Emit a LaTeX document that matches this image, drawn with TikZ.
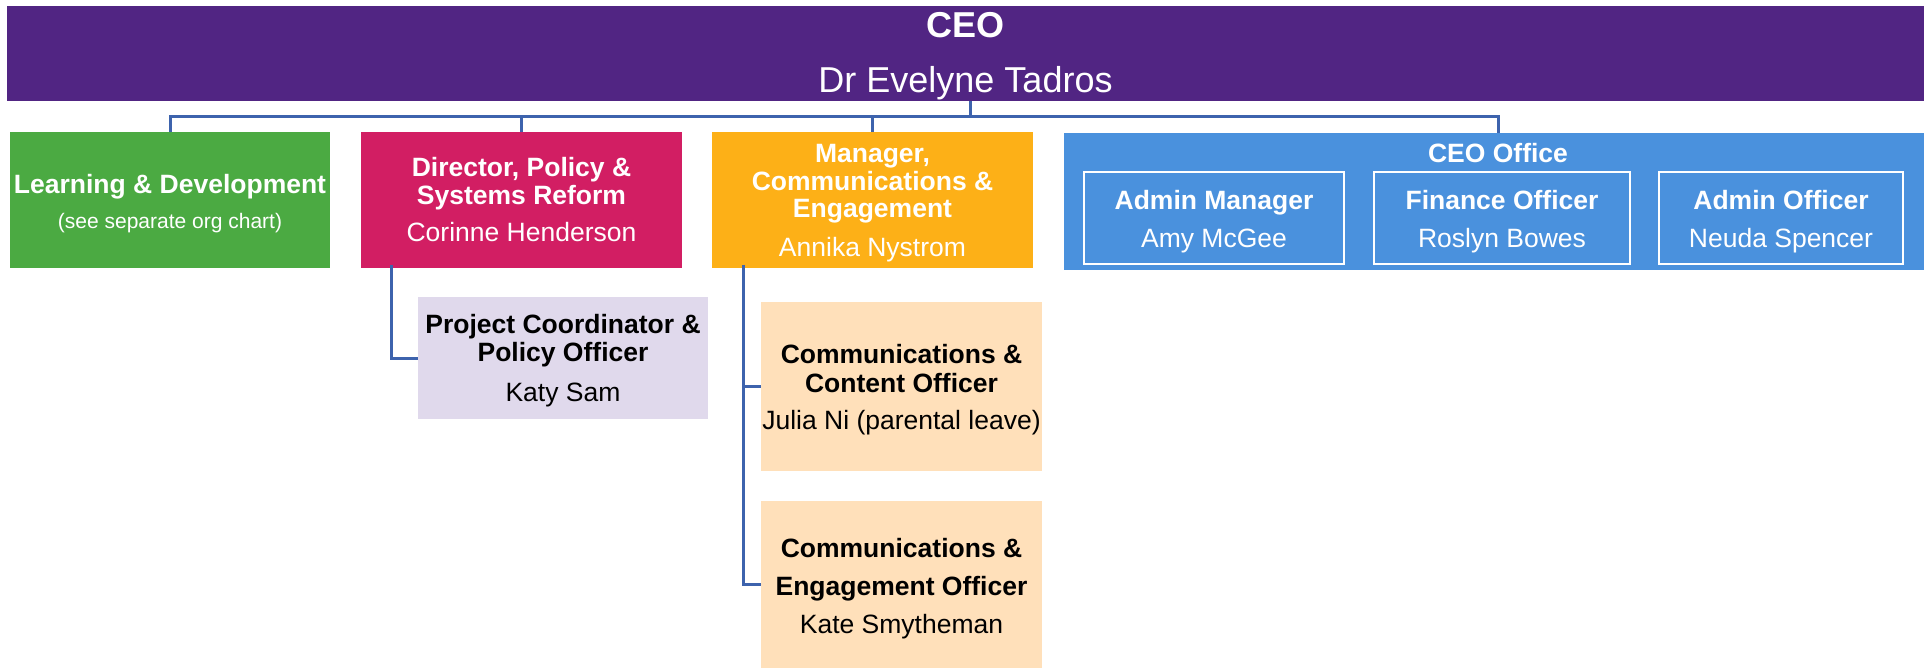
\documentclass[tikz,border=0pt]{standalone}
\usepackage{fontspec}
\setmainfont{Liberation Sans}
\definecolor{ceoC}{HTML}{512583}
\definecolor{ldC}{HTML}{4BAA42}
\definecolor{pinkC}{HTML}{D21E63}
\definecolor{orangeC}{HTML}{FDB017}
\definecolor{blueC}{HTML}{4A91DD}
\definecolor{lavC}{HTML}{E0D9EC}
\definecolor{peachC}{HTML}{FFE0BA}
\definecolor{lineC}{HTML}{3D63AD}
\begin{document}
\begin{tikzpicture}[x=1pt,y=-1pt,
  box/.style={draw=none, inner sep=0pt, outer sep=0pt},
  subbox/.style={draw=white, line width=1.5pt, inner sep=0pt, outer sep=0pt},
  conn/.style={draw=lineC, line width=3pt},
  tx/.style={anchor=base, inner sep=0pt, outer sep=0pt},
  bw/.style={tx, text=white, font=\bfseries\fontsize{26.5}{31}\selectfont},
  rw/.style={tx, text=white, font=\fontsize{26.5}{31}\selectfont},
  bk/.style={tx, text=black, font=\bfseries\fontsize{26.5}{31}\selectfont},
  rk/.style={tx, text=black, font=\fontsize{26.5}{31}\selectfont}]
\useasboundingbox (0,0) rectangle (1928,668);

% boxes
\node[box, fill=ceoC, minimum width=1917pt, minimum height=95pt] (ceo) at (965.5,53.5) {};
\node[box, fill=ldC, minimum width=320pt, minimum height=136pt] (ld) at (170,200) {};
\node[box, fill=pinkC, minimum width=321pt, minimum height=136pt] (pd) at (521.5,200) {};
\node[box, fill=orangeC, minimum width=321pt, minimum height=136pt] (mc) at (872.5,200) {};
\node[box, fill=blueC, minimum width=860pt, minimum height=137pt] (bo) at (1494,201.5) {};
\node[subbox, minimum width=260pt, minimum height=92pt] (am) at (1214,218) {};
\node[subbox, minimum width=256pt, minimum height=92pt] (fo) at (1502,218) {};
\node[subbox, minimum width=244pt, minimum height=92pt] (ao) at (1781,218) {};
\node[box, fill=lavC, minimum width=290pt, minimum height=122pt] (pc) at (563,358) {};
\node[box, fill=peachC, minimum width=281pt, minimum height=169pt] (cc) at (901.5,386.5) {};
\node[box, fill=peachC, minimum width=281pt, minimum height=167pt] (ce) at (901.5,584.5) {};

% texts
\node[tx, text=white, font=\bfseries\fontsize{36}{42}\selectfont] (t1) at (965.5,38) {CEO};
\node[tx, text=white, font=\fontsize{36}{42}\selectfont] (t2) at (965.5,93) {Dr Evelyne Tadros};

\node[bw] (t3) at (170,194) {Learning \& Development};
\node[tx, text=white, font=\fontsize{21}{25}\selectfont] (t4) at (170,229) {(see separate org chart)};

\node[bw] (t5) at (521.5,177) {Director, Policy \&};
\node[bw] (t6) at (521.5,205) {Systems Reform};
\node[rw] (t7) at (521.5,242) {Corinne Henderson};

\node[bw] (t8) at (872.5,163) {Manager,};
\node[bw] (t9) at (872.5,191) {Communications \&};
\node[bw] (t10) at (872.5,218) {Engagement};
\node[rw] (t11) at (872.5,257) {Annika Nystrom};

\node[bw] (t12) at (1498,163) {CEO Office};
\node[bw] (t13) at (1214,210) {Admin Manager};
\node[rw] (t14) at (1214,248) {Amy McGee};
\node[bw] (t15) at (1502,210) {Finance Officer};
\node[rw] (t16) at (1502,248) {Roslyn Bowes};
\node[bw] (t17) at (1781,210) {Admin Officer};
\node[rw] (t18) at (1781,248) {Neuda Spencer};

\node[bk] (t19) at (563,334) {Project Coordinator \&};
\node[bk] (t20) at (563,362) {Policy Officer};
\node[rk] (t21) at (563,401) {Katy Sam};

\node[bk] (t22) at (901.5,363) {Communications \&};
\node[bk] (t23) at (901.5,392) {Content Officer};
\node[rk] (t24) at (901.5,429) {Julia Ni (parental leave)};

\node[bk] (t25) at (901.5,557) {Communications \&};
\node[bk] (t26) at (901.5,595) {Engagement Officer};
\node[rk] (t27) at (901.5,633) {Kate Smytheman};

% connectors
\coordinate (bus) at (970,117);
\draw[conn] (ceo.south -| bus) -- (bus);
\draw[conn] (ld.north) |- (bus);
\draw[conn] (bus) -| ([xshift=4pt]bo.north);
\draw[conn] (pd.north) -- (pd.north |- bus);
\draw[conn] (mc.north) -- (mc.north |- bus);
\coordinate (pdl) at ([xshift=-130pt,yshift=3pt]pd.south);
\draw[conn] (pdl) |- (pc.west);
\coordinate (mcl) at ([xshift=-129.5pt,yshift=3pt]mc.south);
\draw[conn] (mcl) |- (cc.west);
\draw[conn] (mcl) |- (ce.west);
\end{tikzpicture}
\end{document}
